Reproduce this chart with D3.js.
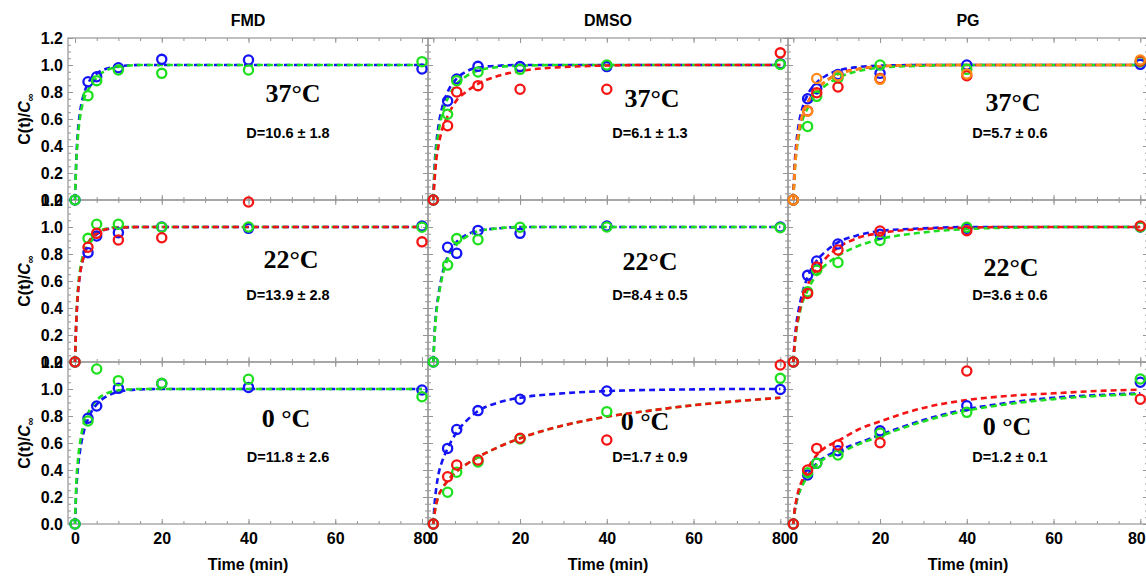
<!DOCTYPE html>
<html>
<head>
<meta charset="utf-8">
<script src="https://cdn.jsdelivr.net/npm/d3@7"></script>
<style>
body { margin: 0; background: #fff; }
svg { display: block; }
</style>
</head>
<body>
<div id="chart"></div>
<script>
var columns = ["FMD", "DMSO", "PG"];
var temps = ["37°C", "22°C", "0 °C"];
var dLabels = [
    ["D=10.6 ± 1.8", "D=6.1 ± 1.3", "D=5.7 ± 0.6"],
    ["D=13.9 ± 2.8", "D=8.4 ± 0.5", "D=3.6 ± 0.6"],
    ["D=11.8 ± 2.6", "D=1.7 ± 0.9", "D=1.2 ± 0.1"]
];
var xTicks = [0, 20, 40, 60, 80];
var yTicks = [0, 0.2, 0.4, 0.6, 0.8, 1.0, 1.2];

// sampling times (min)
var timesFMD = [0, 3, 5, 10, 20, 40, 80];
var timesOther = [0, 3.3, 5.4, 10.3, 20, 40, 80];
var fitT = [0, 0.3, 0.7, 1.2, 2, 3.3, 5.4, 7.5, 10, 15, 20, 30, 40, 50, 60, 70, 80];

// measured C(t)/C_inf
var fmd37 = [
    ["blue",  [0, 0.876, 0.913, 0.98, 1.042, 1.037, 0.97]],
    ["green", [0, 0.773, 0.884, 0.963, 0.938, 0.963, 1.025]]
];
var fmd22 = [
    ["blue",  [0, 0.81, 0.933, 0.958, 1.0, 0.99, 1.007]],
    ["green", [0, 0.916, 1.02, 1.02, 0.998, 1.0, 0.998]],
    ["red",   [0, 0.85, 0.953, 0.904, 0.92, 1.185, 0.89]]
];
var fmd0 = [
    ["blue",  [0, 0.783, 0.874, 1.005, 1.04, 1.012, 0.993]],
    ["green", [0, 0.763, 1.148, 1.062, 1.042, 1.072, 0.943]]
];
var dmso37 = [
    ["blue",  [0, 0.733, 0.896, 0.99, 0.988, 0.988, 1.01]],
    ["green", [0, 0.635, 0.884, 0.948, 0.968, 1.0, 1.005]],
    ["red",   [0, 0.55, 0.8, 0.847, 0.82, 0.82, 1.09]]
];
var dmso22 = [
    ["blue",  [0, 0.85, 0.805, 0.975, 0.953, 1.007, 1.0]],
    ["green", [0, 0.718, 0.914, 0.906, 0.998, 1.0, 0.995]]
];
var dmso0 = [
    ["blue",  [0, 0.56, 0.7, 0.84, 0.924, 0.985, 0.997]],
    ["green", [0, 0.235, 0.383, 0.46, 0.63, 0.832, 1.079]],
    ["red",   [0, 0.35, 0.437, 0.474, 0.635, 0.622, 1.178]]
];
var pg37 = [
    ["blue",   [0, 0.75, 0.825, 0.93, 0.938, 1.0, 1.005]],
    ["green",  [0, 0.545, 0.768, 0.903, 1.0, 0.968, 1.025]],
    ["red",    [0, 0.66, 0.795, 0.837, 0.9, 0.92, 1.03]],
    ["orange", [0, 0.657, 0.9, 0.92, 0.894, 0.933, 1.037]]
];
var pg22 = [
    ["blue",  [0, 0.642, 0.748, 0.874, 0.946, 0.99, 1.0]],
    ["green", [0, 0.52, 0.68, 0.737, 0.9, 0.998, 1.0]],
    ["red",   [0, 0.508, 0.703, 0.83, 0.97, 0.973, 1.007]]
];
var pg0 = [
    ["blue",  [0, 0.363, 0.45, 0.543, 0.69, 0.876, 1.05]],
    ["green", [0, 0.38, 0.45, 0.511, 0.672, 0.827, 1.074]],
    ["red",   [0, 0.4, 0.56, 0.585, 0.602, 1.133, 0.924]]
];

// fitted curves, read at fitT
var fmd37Fit = [
    ["blue",  [0, 0.3, 0.52, 0.66, 0.78, 0.88, 0.945, 0.975, 0.99, 1, 1, 1, 1, 1, 1, 1, 1]],
    ["green", [0, 0.28, 0.48, 0.62, 0.74, 0.83, 0.92, 0.965, 0.985, 1, 1, 1, 1, 1, 1, 1, 1]]
];
var fmd22Fit = [
    ["blue",  [0, 0.3, 0.52, 0.66, 0.78, 0.88, 0.955, 0.985, 0.995, 1, 1, 1, 1, 1, 1, 1, 1]],
    ["green", [0, 0.32, 0.55, 0.69, 0.81, 0.9, 0.965, 0.99, 1, 1, 1, 1, 1, 1, 1, 1, 1]],
    ["red",   [0, 0.3, 0.52, 0.66, 0.78, 0.89, 0.96, 0.985, 0.995, 1, 1, 1, 1, 1, 1, 1, 1]]
];
var fmd0Fit = [
    ["blue",  [0, 0.25, 0.42, 0.55, 0.68, 0.8, 0.9, 0.95, 0.98, 0.997, 1, 1, 1, 1, 1, 1, 1]],
    ["green", [0, 0.3, 0.48, 0.61, 0.74, 0.84, 0.93, 0.97, 0.99, 1, 1, 1, 1, 1, 1, 1, 1]]
];
var dmso37Fit = [
    ["blue",  [0, 0.25, 0.42, 0.55, 0.68, 0.8, 0.9, 0.95, 0.98, 0.995, 1, 1, 1, 1, 1, 1, 1]],
    ["green", [0, 0.22, 0.38, 0.5, 0.63, 0.75, 0.86, 0.915, 0.955, 0.985, 0.995, 1, 1, 1, 1, 1, 1]],
    ["red",   [0, 0.15, 0.3, 0.4, 0.52, 0.62, 0.74, 0.8, 0.855, 0.92, 0.955, 0.985, 0.996, 1, 1, 1, 1]]
];
var dmso22Fit = [
    ["blue",  [0, 0.22, 0.38, 0.5, 0.64, 0.78, 0.89, 0.94, 0.97, 0.99, 1, 1, 1, 1, 1, 1, 1]],
    ["green", [0, 0.2, 0.36, 0.48, 0.62, 0.76, 0.87, 0.925, 0.965, 0.99, 1, 1, 1, 1, 1, 1, 1]]
];
var dmso0Fit = [
    ["blue",  [0, 0.15, 0.27, 0.37, 0.46, 0.56, 0.68, 0.76, 0.83, 0.9, 0.935, 0.968, 0.985, 0.993, 0.997, 1, 1]],
    ["green", [0, 0.08, 0.15, 0.21, 0.26, 0.32, 0.39, 0.44, 0.49, 0.57, 0.635, 0.73, 0.795, 0.84, 0.88, 0.91, 0.935]],
    ["red",   [0, 0.08, 0.15, 0.21, 0.26, 0.32, 0.39, 0.44, 0.49, 0.57, 0.635, 0.73, 0.795, 0.84, 0.88, 0.91, 0.935]]
];
var pg37Fit = [
    ["blue",   [0, 0.25, 0.42, 0.55, 0.67, 0.78, 0.87, 0.92, 0.955, 0.985, 0.995, 1, 1, 1, 1, 1, 1]],
    ["green",  [0, 0.2, 0.35, 0.46, 0.58, 0.68, 0.79, 0.85, 0.9, 0.955, 0.98, 0.995, 1, 1, 1, 1, 1]],
    ["red",    [0, 0.22, 0.38, 0.5, 0.62, 0.72, 0.82, 0.88, 0.93, 0.97, 0.99, 1, 1, 1, 1, 1, 1]],
    ["orange", [0, 0.2, 0.36, 0.5, 0.62, 0.71, 0.82, 0.88, 0.925, 0.97, 0.99, 1, 1, 1, 1, 1, 1]]
];
var pg22Fit = [
    ["blue",  [0, 0.15, 0.28, 0.38, 0.5, 0.63, 0.75, 0.82, 0.88, 0.94, 0.97, 0.99, 1, 1, 1, 1, 1]],
    ["green", [0, 0.12, 0.23, 0.32, 0.43, 0.53, 0.65, 0.72, 0.78, 0.86, 0.91, 0.96, 0.985, 0.995, 1, 1, 1]],
    ["red",   [0, 0.13, 0.25, 0.34, 0.45, 0.57, 0.69, 0.77, 0.84, 0.92, 0.955, 0.985, 0.995, 1, 1, 1, 1]]
];
var pg0Fit = [
    ["blue",  [0, 0.09, 0.16, 0.22, 0.29, 0.36, 0.45, 0.5, 0.54, 0.6, 0.66, 0.77, 0.85, 0.9, 0.935, 0.955, 0.968]],
    ["green", [0, 0.09, 0.16, 0.22, 0.28, 0.35, 0.44, 0.49, 0.52, 0.59, 0.65, 0.76, 0.84, 0.89, 0.925, 0.948, 0.962]],
    ["red",   [0, 0.1, 0.18, 0.25, 0.32, 0.41, 0.51, 0.57, 0.61, 0.7, 0.76, 0.86, 0.918, 0.95, 0.968, 0.985, 0.995]]
];

var points = [[fmd37, dmso37, pg37], [fmd22, dmso22, pg22], [fmd0, dmso0, pg0]];
var fits = [[fmd37Fit, dmso37Fit, pg37Fit], [fmd22Fit, dmso22Fit, pg22Fit], [fmd0Fit, dmso0Fit, pg0Fit]];
var times = [timesFMD, timesOther, timesOther];

var color = {blue: "#1414f5", green: "#1ee01e", red: "#f51414", orange: "#ff8a1a"};

// layout
var width = 1146, height = 579;
var colLeft = [68, 428, 788];
var zeroOff = [7, 5.3, 5.3];
var rowTop = [38, 200, 362];
var panelW = 360, panelH = 162, span80 = 347;
var tempPos = [[[225, 64], [224, 69], [225, 73]],
               [[223, 68], [222, 70], [223, 76]],
               [[218, 65], [217, 68], [219, 73]]];
var sans = "Arial, 'Liberation Sans', sans-serif";
var serif = "'Times New Roman', 'Liberation Serif', serif";
var frameColor = "#969696";

var svg = d3.select("#chart").append("svg")
    .attr("width", width)
    .attr("height", height);

function styleAxis(sel) {
    sel.select(".domain").remove();
    sel.selectAll(".tick line").attr("stroke", frameColor);
    sel.selectAll(".tick text")
        .attr("fill", "#000")
        .style("font-family", sans)
        .style("font-weight", "bold")
        .style("font-size", "16px");
}

function drawFrame(r, c) {
    var left = colLeft[c], top = rowTop[r];
    var x = d3.scaleLinear().domain([0, 80]).range([left + zeroOff[c], left + zeroOff[c] + span80]);
    var y = d3.scaleLinear().domain([0, 1.2]).range([top + panelH, top]);
    var g = svg.append("g");

    g.append("rect")
        .attr("x", left).attr("y", top)
        .attr("width", panelW).attr("height", panelH)
        .attr("fill", "none")
        .attr("stroke", frameColor)
        .attr("stroke-width", 1.2);

    var xMinor = d3.range(0, 81, 5), yMinor = d3.range(0, 1.21, 0.05);

    // bottom
    g.append("g").attr("transform", "translate(0," + (top + panelH) + ")")
        .call(d3.axisBottom(x).tickValues(xMinor).tickSize(-3).tickFormat(""))
        .call(styleAxis);
    var bx = g.append("g").attr("transform", "translate(0," + (top + panelH) + ")")
        .call(d3.axisBottom(x).tickValues(xTicks).tickSize(-5).tickPadding(9)
            .tickFormat(r == 2 ? d3.format("d") : ""))
        .call(styleAxis);
    // last label of the last column sits on the page edge
    if (r == 2 && c == 2) bx.selectAll(".tick text").filter(function(d) { return d == 80; }).attr("dx", -4);
    // top
    g.append("g").attr("transform", "translate(0," + top + ")")
        .call(d3.axisTop(x).tickValues(xMinor).tickSize(-3).tickFormat(""))
        .call(styleAxis);
    g.append("g").attr("transform", "translate(0," + top + ")")
        .call(d3.axisTop(x).tickValues(xTicks).tickSize(-5).tickFormat(""))
        .call(styleAxis);
    // left
    g.append("g").attr("transform", "translate(" + left + ",0)")
        .call(d3.axisLeft(y).tickValues(yMinor).tickSize(-3).tickFormat(""))
        .call(styleAxis);
    g.append("g").attr("transform", "translate(" + left + ",0)")
        .call(d3.axisLeft(y).tickValues(yTicks).tickSize(-5).tickPadding(5)
            .tickFormat(c == 0 ? d3.format(".1f") : ""))
        .call(styleAxis);
    // right
    g.append("g").attr("transform", "translate(" + (left + panelW) + ",0)")
        .call(d3.axisRight(y).tickValues(yMinor).tickSize(-3).tickFormat(""))
        .call(styleAxis);
    g.append("g").attr("transform", "translate(" + (left + panelW) + ",0)")
        .call(d3.axisRight(y).tickValues(yTicks).tickSize(-5).tickFormat(""))
        .call(styleAxis);

    // annotations
    g.append("text")
        .attr("x", left + tempPos[r][c][0])
        .attr("y", top + tempPos[r][c][1])
        .attr("text-anchor", "middle")
        .style("font-family", serif)
        .style("font-weight", "bold")
        .style("font-size", "26px")
        .text(temps[r]);
    g.append("text")
        .attr("x", left + (c == 0 ? 220 : 222))
        .attr("y", top + 100)
        .attr("text-anchor", "middle")
        .style("font-family", sans)
        .style("font-weight", "bold")
        .style("font-size", "14.5px")
        .text(dLabels[r][c]);

    return {x: x, y: y};
}

function drawData(r, c, sc) {
    var g = svg.append("g");
    var line = d3.line()
        .x(function(d) { return sc.x(d[0]); })
        .y(function(d) { return sc.y(d[1]); })
        .curve(d3.curveMonotoneX);

    fits[r][c].forEach(function(s) {
        g.append("path")
            .datum(fitT.map(function(t, i) { return [t, s[1][i]]; }))
            .attr("d", line)
            .attr("fill", "none")
            .attr("stroke", color[s[0]])
            .attr("stroke-width", 2.6)
            .attr("stroke-dasharray", "6,4");
    });

    points[r][c].forEach(function(s) {
        g.selectAll(null)
            .data(times[c].map(function(t, i) { return [t, s[1][i]]; }))
            .enter().append("circle")
            .attr("cx", function(d) { return sc.x(d[0]); })
            .attr("cy", function(d) { return sc.y(d[1]); })
            .attr("r", 4.6)
            .attr("fill", "none")
            .attr("stroke", color[s[0]])
            .attr("stroke-width", 2.3);
    });
}

var scales = [];
for (var r = 0; r < 3; r++) {
    scales.push([]);
    for (var c = 0; c < 3; c++) scales[r].push(drawFrame(r, c));
}
for (var r = 0; r < 3; r++)
    for (var c = 0; c < 3; c++) drawData(r, c, scales[r][c]);

// column titles and x labels
columns.forEach(function(name, c) {
    var cx = colLeft[c] + panelW / 2;
    svg.append("text")
        .attr("x", cx).attr("y", 26)
        .attr("text-anchor", "middle")
        .style("font-family", sans).style("font-weight", "bold").style("font-size", "16px")
        .text(name);
    svg.append("text")
        .attr("x", cx).attr("y", 570)
        .attr("text-anchor", "middle")
        .style("font-family", sans).style("font-weight", "bold").style("font-size", "16px")
        .text("Time (min)");
});

// y labels, one per row
rowTop.forEach(function(top) {
    var t = svg.append("text")
        .attr("transform", "translate(30," + (top + panelH / 2) + ") rotate(-90)")
        .attr("text-anchor", "middle")
        .style("font-family", sans).style("font-weight", "bold").style("font-size", "16px");
    t.append("tspan").text("C(t)/");
    t.append("tspan").style("font-style", "italic").text("C");
    t.append("tspan").attr("dy", 4).style("font-size", "11px").text("∞");
});
</script>
</body>
</html>
